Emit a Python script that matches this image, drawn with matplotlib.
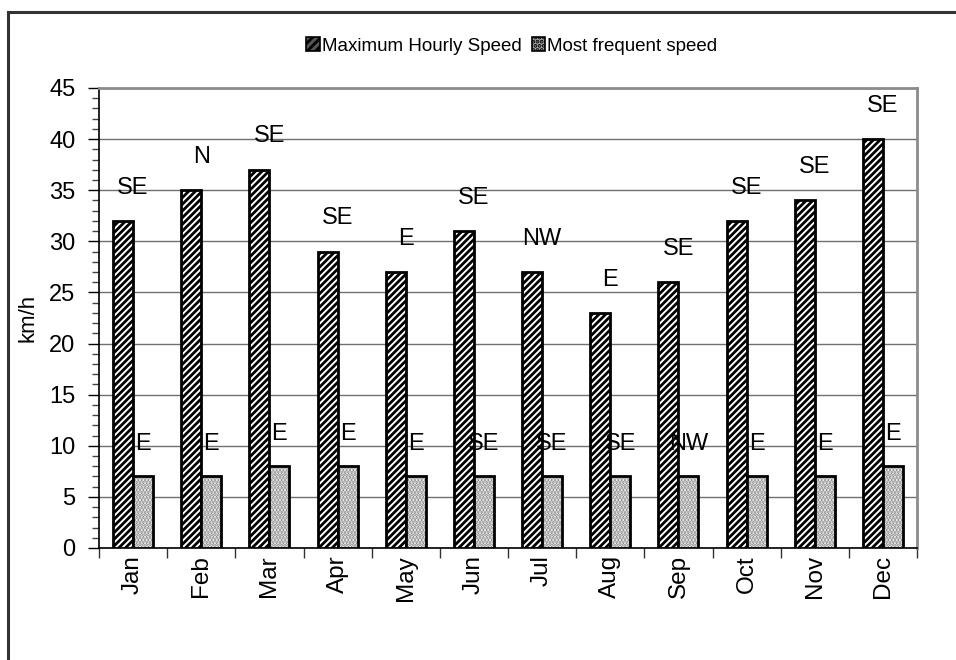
import numpy as np
import matplotlib
matplotlib.use("Agg")
import matplotlib.pyplot as plt
from matplotlib.patches import Patch, Rectangle

# Monthly wind data
months = ['Jan', 'Feb', 'Mar', 'Apr', 'May', 'Jun', 'Jul', 'Aug', 'Sep', 'Oct', 'Nov', 'Dec']
max_speed = [32, 35, 37, 29, 27, 31, 27, 23, 26, 32, 34, 40]
freq_speed = [7, 7, 8, 8, 7, 7, 7, 7, 7, 7, 7, 8]
max_dir = ['SE', 'N', 'SE', 'SE', 'E', 'SE', 'NW', 'E', 'SE', 'SE', 'SE', 'SE']
freq_dir = ['E', 'E', 'E', 'E', 'E', 'SE', 'SE', 'SE', 'NW', 'E', 'E', 'E']

plt.rcParams['font.family'] = ['Liberation Sans', 'DejaVu Sans']
plt.rcParams['hatch.linewidth'] = 2.0
plt.rc('axes', axisbelow=True)

fig = plt.figure(figsize=(9.56, 6.6), dpi=100)
ax = fig.add_axes([0.1036, 0.1697, 0.8556, 0.697])

# outer chart frame (partly cut off at right/bottom)
fig.patches.append(Rectangle((8 / 956, -0.2), 1.2, 0.2 + (660 - 12) / 660,
                             transform=fig.transFigure, fill=False,
                             edgecolor='#333333', linewidth=2.2))
# fragments of the cut off title above the frame
fig.text(402 / 956, 1.012, '(', fontsize=14, ha='center', va='baseline', color='#444444')
fig.text(752 / 956, 1.012, ')', fontsize=14, ha='center', va='baseline', color='#444444')

x = np.arange(len(months))
w = 0.293

ax.bar(x - w / 2, max_speed, w, facecolor='white', edgecolor='black',
       hatch='/////', linewidth=2, zorder=3)
ax.bar(x + w / 2, freq_speed, w, facecolor='white', edgecolor='#8c8c8c',
       hatch='.....', linewidth=0, zorder=3)
ax.bar(x + w / 2, freq_speed, w, fill=False, edgecolor='black', linewidth=2, zorder=4)

# direction labels
for i in range(len(months)):
    ax.annotate(max_dir[i], (x[i], max_speed[i]), xytext=(0, 24), textcoords='offset points',
                ha='center', va='center', fontsize=17)
    ax.annotate(freq_dir[i], (x[i] + w / 2, freq_speed[i]), xytext=(0, 23), textcoords='offset points',
                ha='center', va='center', fontsize=17)

ax.set_xlim(-0.5, len(months) - 0.5)
ax.set_ylim(0, 45)
ax.set_yticks(np.arange(0, 46, 5))
ax.set_yticks(np.arange(0, 46, 1), minor=True)
ax.set_xticks(x)
ax.set_xticklabels(months, rotation=90, fontsize=17.5)
ax.set_xticks(np.arange(-0.5, len(months)), minor=True)
ax.tick_params(axis='x', which='major', length=0, pad=5)
ax.tick_params(axis='x', which='minor', length=7, width=1, color='#333333')
ax.tick_params(axis='y', which='major', length=8, width=1, labelsize=17, pad=9)
ax.tick_params(axis='y', which='minor', length=5, width=1, color='#444444')
ax.set_ylabel('km/h', fontsize=16, labelpad=8)

ax.grid(axis='y', which='major', color='#707070', linewidth=1)
for side in ['top', 'right']:
    ax.spines[side].set_color('#8c8c8c')
    ax.spines[side].set_linewidth(2)
for side in ['left', 'bottom']:
    ax.spines[side].set_color('black')
    ax.spines[side].set_linewidth(1.2)

handles = [Patch(facecolor='#555555', edgecolor='black', hatch='////', linewidth=1.2),
           Patch(facecolor='#aaaaaa', edgecolor='black', hatch='....', linewidth=1.2)]
fig.legend(handles, ['Maximum Hourly Speed', 'Most frequent speed'], ncol=2,
           loc='center', bbox_to_anchor=(512 / 956, (660 - 46) / 660), frameon=False,
           fontsize=13.5, handlelength=0.7, handleheight=0.7, handletextpad=0.15,
           columnspacing=0.5)

fig.savefig('out.png', dpi=100)
